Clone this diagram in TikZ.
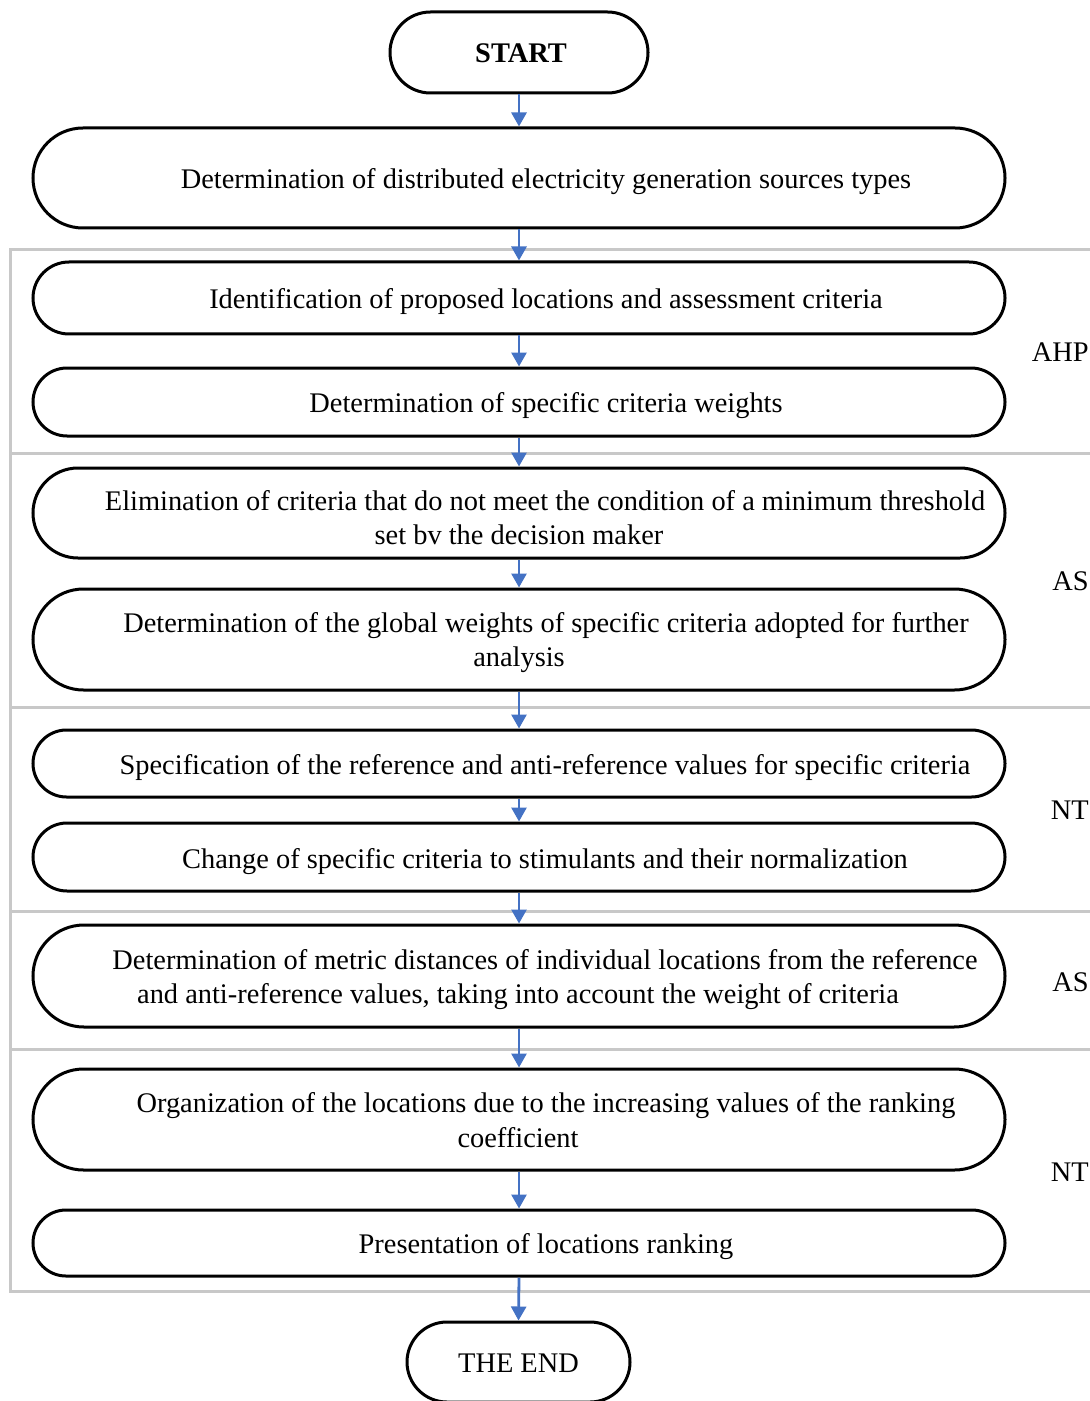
\documentclass[tikz,border=0pt]{standalone}
\usepackage{fontspec}
\setmainfont{Liberation Serif}
\usetikzlibrary{shapes.misc,arrows.meta}
\definecolor{arrowblue}{HTML}{4472C4}
\definecolor{groupgray}{HTML}{C8C8C8}
\begin{document}
\begin{tikzpicture}[x=0.5pt,y=-0.5pt,
  stepbox/.style={draw, line width=1.5pt, rounded rectangle, minimum width=486pt, inner sep=0pt},
  termbox/.style={draw, line width=1.5pt, rounded rectangle, inner sep=0pt},
  txt/.style={font=\fontsize{14.2}{17}\selectfont, inner sep=0pt, anchor=mid},
  lbl/.style={font=\fontsize{14.2}{17}\selectfont, inner sep=0pt, anchor=mid east},
  grp/.style={draw=groupgray, line width=1.5pt},
  flow/.style={draw=arrowblue, line width=1.4pt, -{Triangle[width=7.5pt,length=7pt]}}]
\useasboundingbox (0,0) rectangle (1090,1401);
\fill[white] (0,0) rectangle (1090,1401);
% group frames
\draw[grp] (1095,250) -- (10,250) -- (10,1291) -- (1095,1291);
\draw[grp] (10,453) -- (1095,453);
\draw[grp] (10,707) -- (1095,707);
\draw[grp] (10,911) -- (1095,911);
\draw[grp] (10,1049) -- (1095,1049);
% boxes
\node[termbox, minimum width=129pt, minimum height=40.5pt] (start) at (519,52.5) {};
\node[stepbox, minimum height=50pt] (n1) at (519,178) {};
\node[stepbox, minimum height=36pt] (n2) at (519,298) {};
\node[stepbox, minimum height=34pt] (n3) at (519,402) {};
\node[stepbox, minimum height=45pt] (n4) at (519,513) {};
\node[stepbox, minimum height=50.5pt] (n5) at (519,639.5) {};
\node[stepbox, minimum height=33.5pt] (n6) at (519,763.5) {};
\node[stepbox, minimum height=34pt] (n7) at (519,857) {};
\node[stepbox, minimum height=51pt] (n8) at (519,976) {};
\node[stepbox, minimum height=50.5pt] (n9) at (519,1119.5) {};
\node[stepbox, minimum height=33pt] (n10) at (519,1243) {};
\node[termbox, minimum width=111.5pt, minimum height=40pt] (end) at (518.5,1362) {};
% texts
\node[txt, font=\fontsize{14.2}{17}\selectfont\bfseries] (tstart) at (521,58) {START};
\node[txt] (t1) at (546,184) {Determination of distributed electricity generation sources types};
\node[txt] (t2) at (546,304) {Identification of proposed locations and assessment criteria};
\node[txt] (t3) at (546,408) {Determination of specific criteria weights};
\node[txt] (t4a) at (545,506) {Elimination of criteria that do not meet the condition of a minimum threshold};
\node[txt] (t4b) at (519,540) {set bv the decision maker};
\node[txt] (t5a) at (546,628) {Determination of the global weights of specific criteria adopted for further};
\node[txt] (t5b) at (519,662) {analysis};
\node[txt] (t6) at (545,770) {Specification of the reference and anti-reference values for specific criteria};
\node[txt] (t7) at (545,864) {Change of specific criteria to stimulants and their normalization};
\node[txt] (t8a) at (545,965) {Determination of metric distances of individual locations from the reference};
\node[txt] (t8b) at (518,999) {and anti-reference values, taking into account the weight of criteria};
\node[txt] (t9a) at (546,1108) {Organization of the locations due to the increasing values of the ranking};
\node[txt] (t9b) at (518,1143) {coefficient};
\node[txt] (t10) at (546,1249) {Presentation of locations ranking};
\node[txt] (tend) at (518.5,1368) {THE END};
% side labels
\node[lbl] (l1) at (1089,357) {AHP};
\node[lbl] (l2) at (1089,586) {AS};
\node[lbl] (l3) at (1089,815) {NT};
\node[lbl] (l4) at (1089,987) {AS};
\node[lbl] (l5) at (1089,1177) {NT};
% connectors
\draw[flow] (start.south) -- (n1.north);
\draw[flow] (n1.south) -- (n2.north);
\draw[flow] (n2.south) -- (n3.north);
\draw[flow] (n3.south) -- (n4.north);
\draw[flow] (n4.south) -- (n5.north);
\draw[flow] (n5.south) -- (n6.north);
\draw[flow] (n6.south) -- (n7.north);
\draw[flow] (n7.south) -- (n8.north);
\draw[flow] (n8.south) -- (n9.north);
\draw[flow] (n9.south) -- (n10.north);
\draw[flow] (n10.south) -- (end.north);
\end{tikzpicture}
\end{document}
